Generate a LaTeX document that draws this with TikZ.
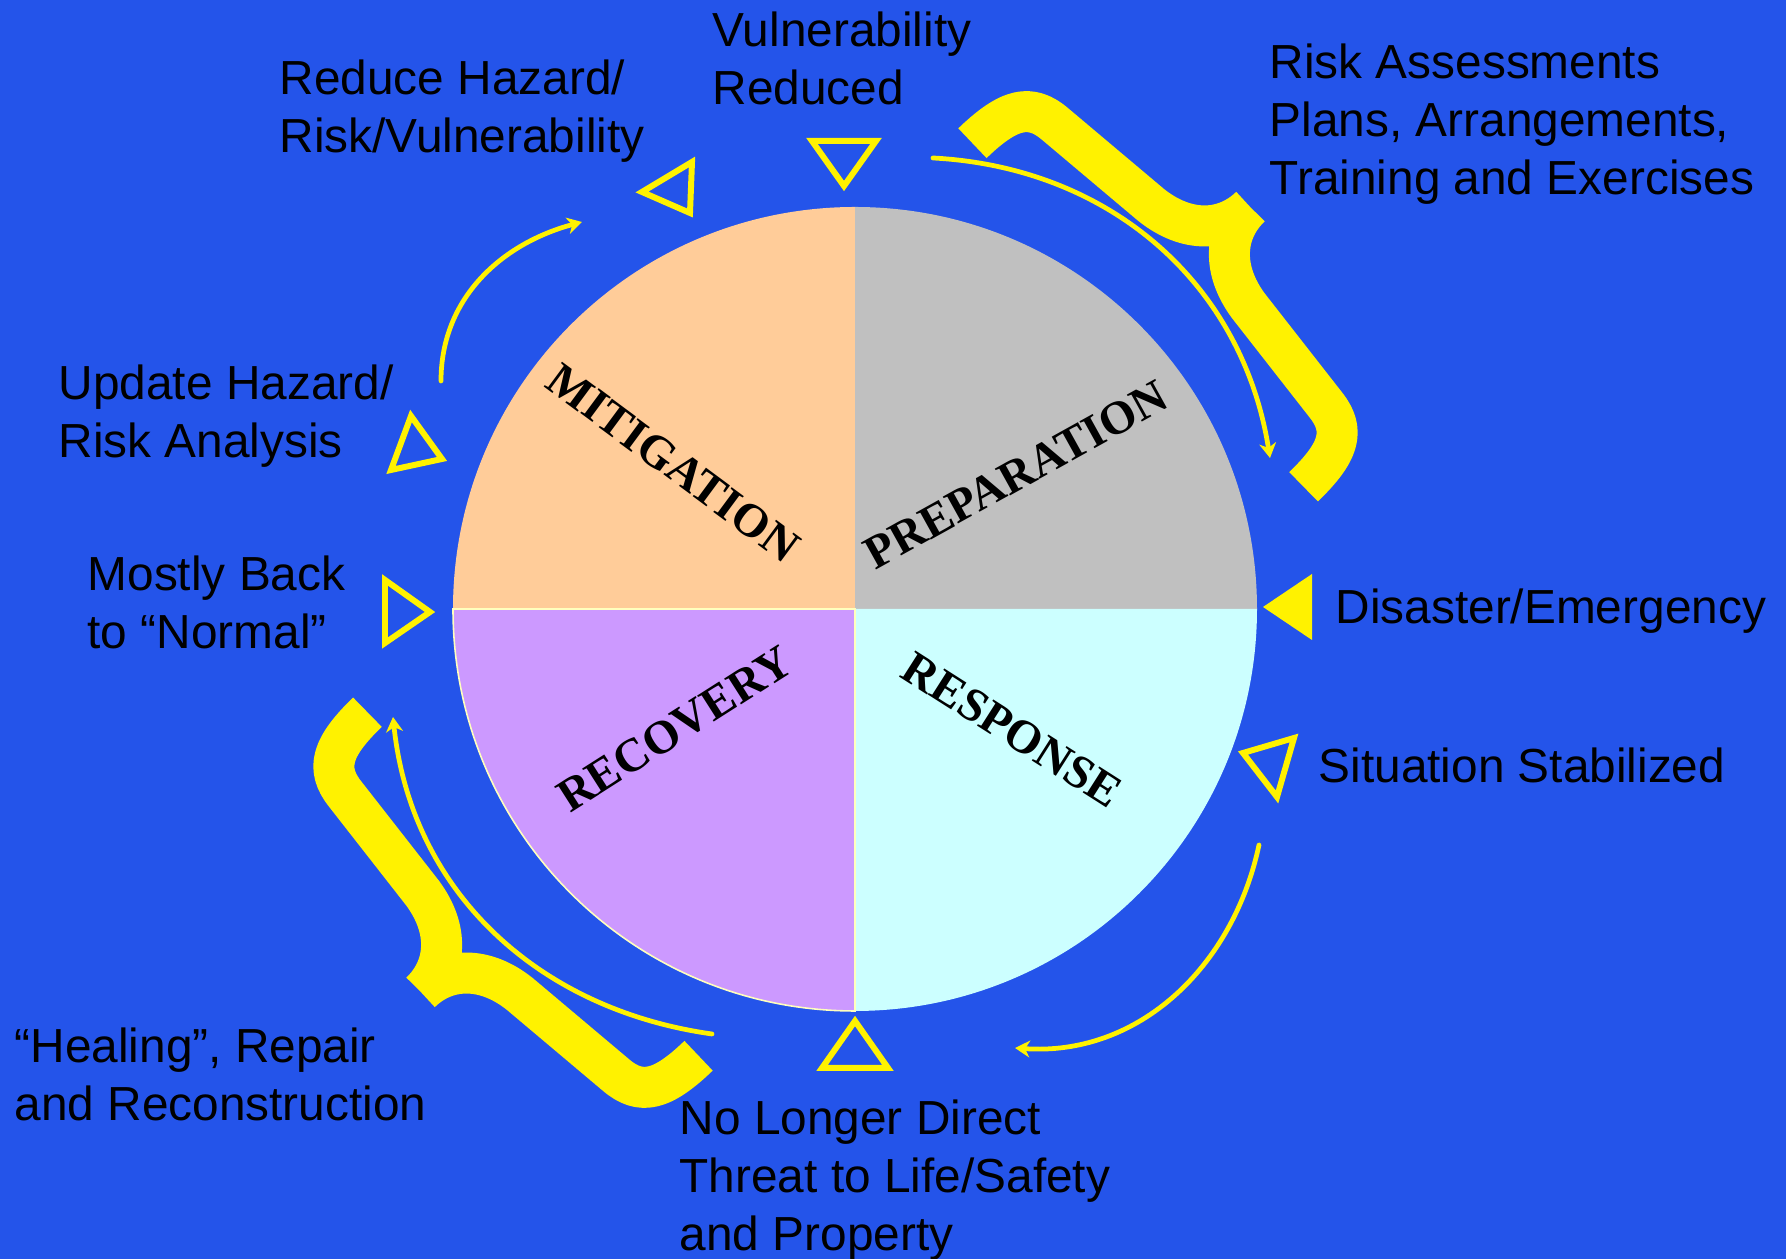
\documentclass[tikz,border=0pt]{standalone}
\usepackage{fontspec}
\setmainfont{Liberation Serif}
\setsansfont{Liberation Sans}
\usetikzlibrary{arrows.meta}

\definecolor{bgblue}{RGB}{36,84,234}
\definecolor{mitcol}{RGB}{255,204,153}
\definecolor{prepcol}{RGB}{192,192,192}
\definecolor{respcol}{RGB}{204,255,255}
\definecolor{reccol}{RGB}{204,153,255}
\definecolor{recline}{RGB}{255,255,190}

\begin{document}
\begin{tikzpicture}[
  phase/.style={font=\fontsize{13.4}{16}\selectfont\bfseries, text=black},
  note/.style={font=\sffamily\fontsize{13.6}{16.5}\selectfont, align=left, anchor=north west, inner sep=0pt},
  marker/.style={draw=yellow, line width=1.7pt, line join=miter},
  flow/.style={draw=yellow, line width=1.35pt, line cap=round, -{Stealth[length=4.2pt,width=4.8pt,inset=1.3pt]}},
  bracket/.style={draw=yellow, line width=0.41cm, line cap=butt, line join=round},
]
  \fill[bgblue] (0,0) rectangle (17.86,12.59);
  \useasboundingbox (0,0) rectangle (17.86,12.59);

  % Wheel
  \coordinate (c) at (8.55,6.50);
  \fill[mitcol] (c) -- +(180:4.02) arc[start angle=180, end angle=90, radius=4.02] -- cycle;
  \fill[prepcol] (c) -- +(90:4.02) arc[start angle=90, end angle=0, radius=4.02] -- cycle;
  \fill[respcol] (c) -- +(0:4.02) arc[start angle=0, end angle=-90, radius=4.02] -- cycle;
  \filldraw[fill=reccol, draw=recline, line width=0.45pt] (c) -- +(-90:4.02) arc[start angle=-90, end angle=-180, radius=4.02] -- cycle;

  \node[phase, rotate=-36.5] (mit) at (6.73,7.96) {MITIGATION};
  \node[phase, rotate=29] (prep) at (10.16,7.84) {PREPARATION};
  \node[phase, rotate=-32.5] (resp) at (10.12,5.29) {RESPONSE};
  \node[phase, rotate=32.5] (rec) at (6.75,5.30) {RECOVERY};

  % Nodes
  \node[note] (vulred) at (7.12,12.48) {Vulnerability\\Reduced};
  \node[note] (reduce) at (2.79,12.00) {Reduce Hazard/\\Risk/Vulnerability};
  \node[note] (assess) at (12.69,12.16) {Risk Assessments\\Plans, Arrangements,\\Training and Exercises};
  \node[note] (update) at (0.58,8.95) {Update Hazard/\\Risk Analysis};
  \node[note] (normal) at (0.87,7.04) {Mostly Back\\to “Normal”};
  \node[note] (disaster) at (13.35,6.71) {Disaster/Emergency};
  \node[note] (stable) at (13.18,5.12) {Situation Stabilized};
  \node[note] (healing) at (0.14,2.32) {“Healing”, Repair\\and Reconstruction};
  \node[note] (threat) at (6.79,1.60) {No Longer Direct\\Threat to Life/Safety\\and Property};

  % Markers
  \draw[marker] (8.12,11.18) -- (8.76,11.18) -- (8.44,10.73) -- cycle;
  \draw[marker] (6.42,10.67) -- (6.92,10.97) -- (6.90,10.46) -- cycle;
  \draw[marker] (4.11,8.43) -- (4.42,8.00) -- (3.91,7.89) -- cycle;
  \draw[marker] (3.85,6.79) -- (4.30,6.47) -- (3.85,6.16) -- cycle;
  \fill[yellow] (12.63,6.52) -- (13.12,6.85) -- (13.12,6.19) -- cycle;
  \draw[marker] (12.43,5.06) -- (12.94,5.21) -- (12.77,4.62) -- cycle;
  \draw[marker] (8.55,2.38) -- (8.22,1.91) -- (8.88,1.91) -- cycle;

  % Edges
  \coordinate (a1) at (4.41,8.78);
  \coordinate (a2) at (5.82,10.37);
  \coordinate (b1) at (9.33,11.01);
  \coordinate (b2) at (12.70,8.01);
  \coordinate (c1) at (12.59,4.14);
  \coordinate (c2) at (10.15,2.11);
  \coordinate (d1) at (7.12,2.25);
  \coordinate (d2) at (3.93,5.42);
  \draw[flow] (a1) to[out=90, in=195] (a2);
  \draw[flow] (b1) to[out=-3, in=99] (b2);
  \draw[flow] (c1) to[out=-102, in=-4] (c2);
  \draw[flow] (d1) to[out=172, in=-84] (d2);

  % Braces
  \begin{scope}[shift={(11.38,9.44)}, rotate=-46, scale=0.01]
    \draw[bracket] (-239,0) .. controls (-239,50) and (-228,70) .. (-195,73) -- (-70,86) .. controls (-25,92) and (0,120) .. (0,156)
      (239,0) .. controls (239,50) and (228,70) .. (195,73) -- (70,86) .. controls (25,92) and (0,120) .. (0,156);
  \end{scope}
  \begin{scope}[shift={(5.33,3.75)}, rotate=134, scale=0.01]
    \draw[bracket] (-239,0) .. controls (-239,50) and (-228,70) .. (-195,73) -- (-70,86) .. controls (-25,92) and (0,120) .. (0,156)
      (239,0) .. controls (239,50) and (228,70) .. (195,73) -- (70,86) .. controls (25,92) and (0,120) .. (0,156);
  \end{scope}
\end{tikzpicture}
\end{document}
